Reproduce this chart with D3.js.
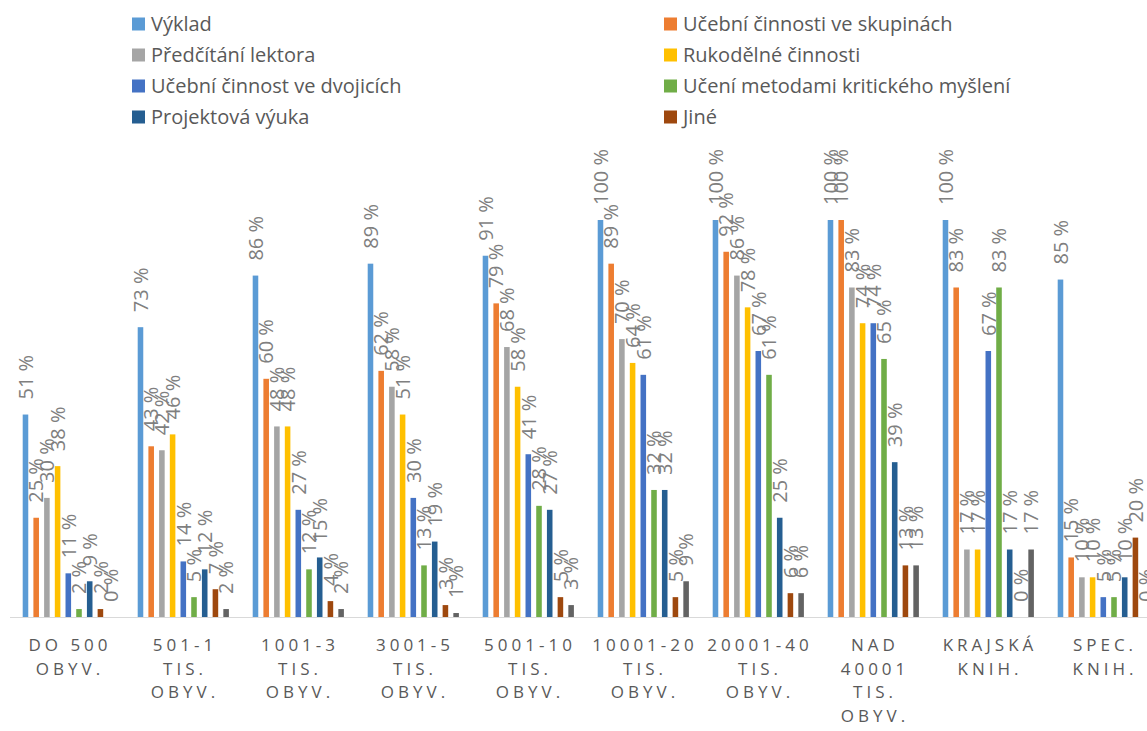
<!DOCTYPE html>
<meta charset="utf-8">
<style>
body {
  margin: 0;
  background: #fff;
}
svg text {
  font-family: "Open Sans", sans-serif;
}
.legend text {
  font-size: 20px;
  fill: #595959;
}
.value {
  font-size: 20px;
  fill: #7f7f7f;
}
.cat {
  font-size: 17px;
  fill: #595959;
  letter-spacing: 4px;
}
</style>
<body>
<svg width="1147" height="731"></svg>
<script src="https://d3js.org/d3.v7.min.js"></script>
<script>
// categories (x axis labels, one entry per line)
var categories = [
  ["DO 500", "OBYV."],
  ["501-1", "TIS.", "OBYV."],
  ["1001-3", "TIS.", "OBYV."],
  ["3001-5", "TIS.", "OBYV."],
  ["5001-10", "TIS.", "OBYV."],
  ["10001-20", "TIS.", "OBYV."],
  ["20001-40", "TIS.", "OBYV."],
  ["NAD", "40001", "TIS.", "OBYV."],
  ["KRAJSKÁ", "KNIH."],
  ["SPEC.", "KNIH."]
];

// series names (last one has no legend entry visible)
var seriesNames = [
  "Výklad",
  "Učební činnosti ve skupinách",
  "Předčítání lektora",
  "Rukodělné činnosti",
  "Učební činnost ve dvojicích",
  "Učení metodami kritického myšlení",
  "Projektová výuka",
  "Jiné",
  "Ostatní"
];

var colors = ["#5B9BD5", "#ED7D31", "#A5A5A5", "#FFC000", "#4472C4", "#70AD47", "#255E91", "#9E480E", "#636363"];

// values in %, one array per series, in category order
var vyklad     = [51, 73, 86, 89, 91, 100, 100, 100, 100, 85];
var skupiny    = [25, 43, 60, 62, 79, 89, 92, 100, 83, 15];
var predcitani = [30, 42, 48, 58, 68, 70, 86, 83, 17, 10];
var rukodelne  = [38, 46, 48, 51, 58, 64, 78, 74, 17, 10];
var dvojice    = [11, 14, 27, 30, 41, 61, 67, 74, 67, 5];
var kriticke   = [2, 5, 12, 13, 28, 32, 61, 65, 83, 5];
var projektova = [9, 12, 15, 19, 27, 32, 25, 39, 17, 10];
var jine       = [2, 7, 4, 3, 5, 5, 6, 13, 0, 20];
var ostatni    = [0, 2, 2, 1, 3, 9, 6, 13, 17, 0];

var seriesValues = [vyklad, skupiny, predcitani, rukodelne, dvojice, kriticke, projektova, jine, ostatni];

var svg = d3.select("svg");

var x0 = d3.scaleBand()
    .domain(d3.range(categories.length))
    .range([10.5, 1160.5]);

var x1 = d3.scaleBand()
    .domain(d3.range(seriesNames.length))
    .range([12.2, 103.4])
    .paddingInner(0.48);

var y = d3.scaleLinear().domain([0, 100]).range([617, 220]);

// axis line
svg.append("line")
    .attr("x1", 10).attr("x2", 1147)
    .attr("y1", y(0) + 0.5).attr("y2", y(0) + 0.5)
    .attr("stroke", "#d9d9d9")
    .attr("stroke-width", 1);

var group = svg.selectAll(".cat-group")
  .data(categories)
  .enter().append("g")
    .attr("class", "cat-group")
    .attr("transform", function(d, i) { return "translate(" + x0(i) + ",0)"; });

group.selectAll("rect")
  .data(function(d, i) { return seriesValues.map(function(s, j) { return {s: j, v: s[i]}; }); })
  .enter().append("rect")
    .attr("x", function(d) { return x1(d.s); })
    .attr("width", x1.bandwidth())
    .attr("y", function(d) { return y(d.v); })
    .attr("height", function(d) { return y(0) - y(d.v); })
    .attr("fill", function(d) { return colors[d.s]; });

group.selectAll(".value")
  .data(function(d, i) { return seriesValues.map(function(s, j) { return {s: j, v: s[i]}; }); })
  .enter().append("text")
    .attr("class", "value")
    .attr("transform", function(d) {
      return "translate(" + (x1(d.s) + x1.bandwidth() / 2) + "," + (y(d.v) - 15) + ") rotate(-90)";
    })
    .attr("dy", "0.36em")
    .text(function(d) { return d.v + " %"; });

// category labels
var cat = svg.selectAll(".cat")
  .data(categories)
  .enter().append("text")
    .attr("class", "cat")
    .attr("text-anchor", "middle")
    .attr("x", function(d, i) { return x0(i) + x0.bandwidth() / 2 + 2; })
    .attr("y", 651);

cat.selectAll("tspan")
  .data(function(d) { return d; })
  .enter().append("tspan")
    .attr("x", function() { return d3.select(this.parentNode).attr("x"); })
    .attr("dy", function(d, i) { return i === 0 ? 0 : 23.5; })
    .text(function(d) { return d; });

// legend, two columns
var legend = svg.append("g").attr("class", "legend");
var legendItems = legend.selectAll("g")
  .data(seriesNames.slice(0, 8))
  .enter().append("g")
    .attr("transform", function(d, i) {
      return "translate(" + (i % 2 === 0 ? 132 : 664) + "," + (24 + Math.floor(i / 2) * 31) + ")";
    });

legendItems.append("rect")
    .attr("x", 0).attr("y", -6.5)
    .attr("width", 13).attr("height", 13)
    .attr("fill", function(d, i) { return colors[i]; });

legendItems.append("text")
    .attr("x", 19)
    .attr("dy", "0.35em")
    .text(function(d) { return d; });
</script>
</body>
